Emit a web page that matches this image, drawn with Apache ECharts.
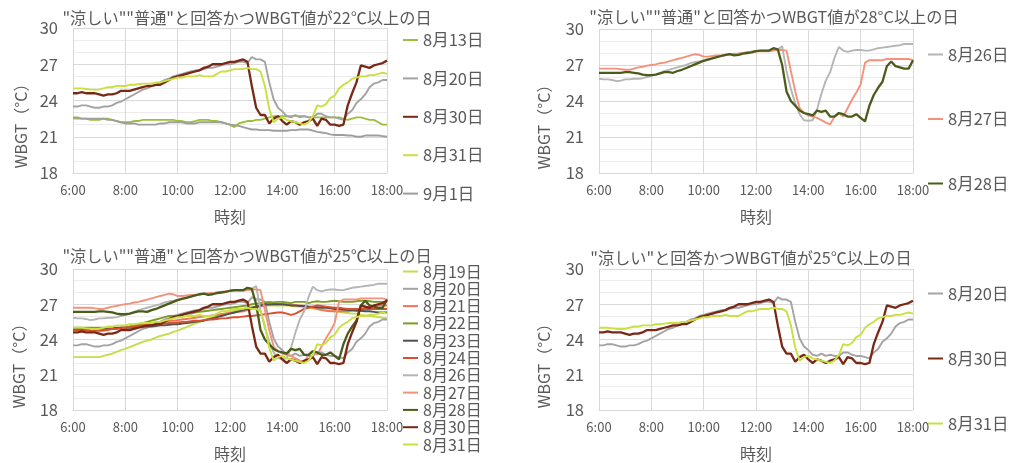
<!DOCTYPE html>
<html><head><meta charset="utf-8">
<script src="https://cdn.jsdelivr.net/npm/echarts@6/dist/echarts.min.js"></script>
<style>html,body{margin:0;padding:0;background:#fff}#c{width:1012px;height:463px}</style>
</head><body><div id="c"></div>
<script>
// time categories, 10-minute steps 6:00-18:00
const times = [];
for (let h = 6; h <= 18; h++) for (let m = 0; m < 60; m += 10) { if (h === 18 && m > 0) break; times.push(h + ':' + (m < 10 ? '0' : '') + m); }

const yTicks = [18, 21, 24, 27, 30];

const d0813 = [22.5,22.5,22.5,22.5,22.4,22.4, 22.4,22.5,22.5,22.4,22.3,22.2, 22.2,22.2,22.3,22.3,22.4,22.4, 22.4,22.4,22.4,22.4,22.4,22.4,
  22.3,22.3,22.2,22.2,22.3,22.4, 22.4,22.4,22.3,22.3,22.2,22.1, 22.0,21.8,22.1,22.2,22.3,22.3, 22.4,22.4,22.5,22.6,22.7,22.7,
  22.7,22.7,22.7,22.75,22.7,22.7, 22.6,22.6,22.6,22.6,22.6,22.6, 22.6,22.6,22.5,22.4,22.5,22.6, 22.6,22.5,22.4,22.4,22.2,22.0, 22.0];
const d0819 = [22.5,22.5,22.5,22.5,22.5,22.5, 22.5,22.6,22.7,22.8,22.95,23.1, 23.2,23.35,23.5,23.65,23.8,23.9, 24.0,24.15,24.3,24.4,24.5,24.65,
  24.75,24.9,25.05,25.2,25.35,25.5, 25.65,25.8,25.9,26.05,26.15,26.25, 26.35,26.45,26.55,26.6,26.7,26.75, 26.8,26.85,26.9,26.9,26.9,26.9,
  26.9,26.9,26.85,26.8,26.8,26.75, 26.7,26.65,26.6,26.55,26.5,26.45, 26.4,26.35,26.3,26.25,26.2,26.2, 26.1,26.05,26.0,25.95,25.9,25.85, 25.8];
const d0820 = [23.5,23.5,23.6,23.6,23.5,23.4, 23.4,23.5,23.5,23.6,23.8,23.9, 24.1,24.3,24.5,24.7,24.9,25.0, 25.2,25.3,25.5,25.7,25.8,26.0,
  26.1,26.2,26.3,26.4,26.5,26.5, 26.6,26.7,26.7,26.8,26.9,27.0, 27.0,27.1,27.2,27.2,27.1,27.6, 27.4,27.4,27.2,25.5,24.1,23.4,
  23.1,22.7,22.6,22.8,22.6,22.7, 22.6,22.6,22.9,22.9,22.7,22.6, 22.6,22.5,22.4,22.9,23.2,23.8, 24.1,24.5,25.1,25.4,25.5,25.7, 25.7];
const d0821 = [24.8,24.8,24.85,24.85,24.8,24.8, 24.7,24.75,24.8,24.9,24.95,25.0, 25.05,25.1,25.2,25.25,25.3,25.35, 25.4,25.45,25.5,25.55,25.6,25.6,
  25.65,25.7,25.75,25.8,25.85,25.9, 25.95,26.0,26.05,26.1,26.15,26.2, 26.25,26.3,26.35,26.4,26.5,26.6, 26.7,26.8,26.9,26.95,27.0,27.0,
  27.0,27.0,26.95,26.9,26.9,26.85, 26.8,26.7,26.6,26.5,26.45,26.4, 26.4,26.4,26.4,26.4,26.45,26.5, 26.6,26.7,26.8,26.85,26.9,26.9, 26.9];
const d0822 = [25.0,25.0,25.0,25.0,25.0,25.0, 25.0,25.0,24.95,24.9,24.9,25.0, 25.0,25.1,25.2,25.3,25.4,25.5, 25.6,25.7,25.8,25.9,26.0,26.0,
  26.0,26.1,26.2,26.2,26.3,26.35, 26.4,26.45,26.5,26.55,26.6,26.65, 26.7,26.75,26.8,26.85,26.9,27.0, 27.05,27.1,27.15,27.2,27.15,27.2,
  27.2,27.15,27.1,27.2,27.2,27.2, 27.1,27.2,27.25,27.2,27.2,27.25, 27.3,27.25,27.2,27.2,27.2,27.25, 27.3,27.3,27.25,27.2,27.2,27.2, 27.2];
const d0823 = [24.9,24.9,24.9,24.9,24.9,24.9, 24.9,24.9,24.9,24.95,25.0,25.0, 25.0,25.0,25.0,25.05,25.1,25.1, 25.1,25.15,25.2,25.2,25.25,25.3,
  25.3,25.35,25.4,25.45,25.5,25.55, 25.6,25.7,25.8,25.9,26.0,26.1, 26.2,26.3,26.4,26.5,26.6,26.7, 26.8,26.9,27.0,27.0,27.0,27.0,
  27.0,26.95,26.9,26.9,26.85,26.85, 26.8,26.8,26.75,26.7,26.7,26.65, 26.6,26.6,26.55,26.5,26.5,26.45, 26.45,26.4,26.4,26.35,26.3,26.3, 26.3];
const d0824 = [24.8,24.8,24.8,24.8,24.75,24.75, 24.8,24.8,24.85,24.9,24.9,24.95, 25.0,25.05,25.1,25.15,25.2,25.2, 25.25,25.3,25.3,25.35,25.4,25.4,
  25.45,25.5,25.5,25.55,25.6,25.6, 25.65,25.7,25.7,25.75,25.8,25.8, 25.85,25.9,25.9,25.95,26.0,26.0, 26.05,26.1,26.15,26.2,26.25,26.3,
  26.3,26.2,26.1,26.2,26.4,26.6, 26.7,26.8,26.9,26.85,26.8,26.75, 26.7,26.7,26.65,26.6,26.6,26.6, 26.6,26.6,26.6,26.6,26.6,26.6, 26.6];
const d0826 = [25.85,25.8,25.8,25.75,25.65,25.7, 25.8,25.8,25.85,25.85,25.9,26.0, 26.1,26.2,26.35,26.5,26.6,26.7, 26.8,26.9,27.0,27.15,27.25,27.3,
  27.4,27.5,27.55,27.65,27.75,27.8, 27.9,27.9,27.95,28.0,28.05,28.1, 28.15,28.2,28.2,28.2,28.25,28.3, 28.55,26.5,25.0,23.8,22.9,22.4,
  22.35,22.4,23.3,24.6,25.7,26.4, 27.6,28.5,28.2,28.1,28.2,28.25, 28.25,28.2,28.2,28.3,28.4,28.45, 28.5,28.55,28.6,28.65,28.75,28.75, 28.75];
const d0827 = [26.7,26.7,26.7,26.7,26.7,26.65, 26.6,26.6,26.7,26.8,26.85,26.95, 27.0,27.05,27.15,27.2,27.3,27.4, 27.5,27.6,27.7,27.8,27.9,27.85,
  27.7,27.7,27.75,27.8,27.8,27.85, 27.9,27.95,27.95,28.0,28.05,28.1, 28.15,28.15,28.15,28.15,28.2,28.25, 28.25,28.2,26.5,24.8,23.4,23.0,
  22.8,22.7,22.6,22.4,22.2,22.05, 22.7,23.0,22.7,23.4,24.1,24.7, 25.4,27.2,27.4,27.4,27.4,27.4, 27.5,27.5,27.5,27.5,27.5,27.5, 27.4];
const d0828 = [26.35,26.35,26.35,26.35,26.35,26.35, 26.4,26.4,26.35,26.3,26.2,26.15, 26.15,26.2,26.3,26.4,26.4,26.35, 26.5,26.6,26.75,26.9,27.05,27.2,
  27.35,27.45,27.55,27.65,27.75,27.85, 27.9,27.8,27.85,27.95,28.0,28.05, 28.15,28.2,28.2,28.2,28.4,28.3, 27.0,24.8,24.0,23.6,23.2,23.0,
  22.9,22.8,23.2,23.1,23.2,22.7, 22.7,23.0,22.9,22.7,22.7,22.9, 22.6,22.3,23.6,24.5,25.1,25.6, 26.9,27.3,26.9,26.8,26.7,26.7, 27.4];
const d0830 = [24.6,24.6,24.7,24.6,24.6,24.6, 24.5,24.4,24.5,24.5,24.6,24.8, 24.8,24.8,24.9,25.0,25.1,25.2, 25.2,25.3,25.3,25.5,25.7,25.9,
  26.0,26.1,26.2,26.3,26.4,26.5, 26.7,26.8,27.0,27.0,27.0,27.1, 27.2,27.2,27.3,27.4,27.2,25.2, 23.4,22.8,22.8,22.1,22.5,22.7,
  22.3,22.0,22.3,22.2,22.0,22.2, 22.3,22.5,21.9,22.5,22.4,22.0, 22.0,21.9,22.0,23.6,24.6,25.5, 26.9,26.8,26.7,26.9,27.0,27.1, 27.3];
const d0831 = [25.0,25.0,25.0,24.95,24.9,24.9, 24.9,25.0,25.1,25.1,25.2,25.2, 25.2,25.3,25.3,25.35,25.4,25.4, 25.4,25.5,25.5,25.6,25.7,25.8,
  25.9,25.9,26.0,26.0,26.0,26.1, 26.0,26.0,26.0,26.2,26.4,26.4, 26.5,26.6,26.6,26.6,26.7,26.6, 26.6,26.4,25.2,23.3,22.2,22.5,
  22.6,22.4,22.3,22.2,22.1,22.0, 22.2,22.7,23.6,23.5,23.7,24.2, 24.4,25.0,25.3,25.5,25.8,25.9, 26.0,26.0,26.1,26.1,26.2,26.3, 26.2];
const d0901 = [22.6,22.6,22.5,22.5,22.5,22.5, 22.5,22.5,22.4,22.4,22.3,22.2, 22.1,22.1,22.1,22.0,22.0,22.0, 22.0,22.0,22.1,22.1,22.2,22.2,
  22.2,22.2,22.1,22.1,22.1,22.2, 22.2,22.2,22.2,22.2,22.2,22.1, 22.0,21.95,21.9,21.8,21.7,21.6, 21.6,21.55,21.55,21.55,21.5,21.5,
  21.5,21.5,21.55,21.55,21.6,21.6, 21.6,21.5,21.4,21.35,21.3,21.2, 21.15,21.15,21.15,21.1,21.1,21.0, 21.0,21.1,21.1,21.1,21.1,21.05, 21.0];

const dayNames = ['8月13日','8月19日','8月20日','8月21日','8月22日','8月23日','8月24日','8月26日','8月27日','8月28日','8月30日','8月31日','9月1日'];
const dayData = [d0813,d0819,d0820,d0821,d0822,d0823,d0824,d0826,d0827,d0828,d0830,d0831,d0901];
const dayColors = ['#9CC03A','#C6DC48','#A3A3A3','#F2735A','#7E9C22','#505050','#D8512E','#B5B5B5','#F4927C','#4B5C1A','#7A2816','#C9E040','#9E9E9E'];

const panelTitles = ['"涼しい""普通"と回答かつWBGT値が22℃以上の日','"涼しい""普通"と回答かつWBGT値が28°C以上の日','"涼しい""普通"と回答かつWBGT値が25℃以上の日','"涼しい"と回答かつWBGT値が25℃以上の日'];
const panelDays = [
  ['8月13日','8月20日','8月30日','8月31日','9月1日'],
  ['8月26日','8月27日','8月28日'],
  ['8月19日','8月20日','8月21日','8月22日','8月23日','8月24日','8月26日','8月27日','8月28日','8月30日','8月31日'],
  ['8月20日','8月30日','8月31日']
];

const FONT = '"Noto Sans CJK JP", "Noto Sans", sans-serif';
const TXT = '#595959';
const grids = [
  {left:73, top:28, width:314, height:145},
  {left:599, top:29, width:314, height:144},
  {left:73, top:269, width:314, height:144},
  {left:599, top:269, width:314, height:144}
];
const titlePos = [[242,5],[769,4],[242,243],[746,245]];
const yNamePos = [[21,122],[544,123],[19,362],[544,362]];
const legendCfg = [
  {left:403, top:30, fs:16.5, lh:20, gap:18.4, h:200},
  {left:928, top:44.5, fs:16.5, lh:20, gap:44.5, h:200},
  {left:403, top:263, fs:16, lh:17, gap:0.3, h:200},
  {left:928, top:283.5, fs:16.5, lh:20, gap:45, h:180}
];

const option = {
  backgroundColor:'#fff',
  animation:false,
  textStyle:{fontFamily:FONT},
  title: panelTitles.map((t,i)=>({text:t, left:titlePos[i][0], top:titlePos[i][1], textAlign:'center',
    textStyle:{fontFamily:FONT, fontSize:16.2, fontWeight:'normal', color:TXT}})),
  grid: grids.map(g=>Object.assign({containLabel:false}, g)),
  xAxis: grids.map((g,i)=>({gridIndex:i, type:'category', data:times, boundaryGap:false,
    name:'時刻', nameLocation:'middle', nameGap:36, nameTextStyle:{fontFamily:FONT, fontSize:16, color:TXT},
    axisLine:{show:true, lineStyle:{color:'#d9d9d9'}}, axisTick:{show:false},
    axisLabel:{interval:11, fontSize:13, color:TXT, margin:11, fontFamily:FONT},
    splitLine:{show:true, interval:11, lineStyle:{color:'#d9d9d9', width:1}}})),
  yAxis: grids.map((g,i)=>({gridIndex:i, type:'value', min:yTicks[0], max:yTicks[yTicks.length-1], interval:3,
    axisLine:{show:false}, axisTick:{show:false},
    axisLabel:{fontSize:16.5, color:TXT, margin:15, fontFamily:FONT},
    splitLine:{show:true, lineStyle:{color:'#d9d9d9', width:1}},
    minorTick:{show:false, splitNumber:3},
    minorSplitLine:{show:true, lineStyle:{color:'#ececec', width:1}}})),
  legend: legendCfg.map((c,i)=>({orient:'vertical', left:c.left, top:c.top, height:c.h, itemGap:c.gap,
    data:panelDays[i], icon:'rect', itemWidth:15, itemHeight:2, selectedMode:false, padding:0,
    textStyle:{fontFamily:FONT, fontSize:c.fs, color:TXT, lineHeight:c.lh, height:c.lh, padding:0}})),
  graphic: yNamePos.map(p=>({type:'text', x:p[0], y:p[1], rotation:Math.PI/2,
    style:{text:'WBGT（°C）', fontFamily:FONT, fontSize:16, fill:TXT, align:'center', verticalAlign:'middle'}})),
  series: []
};

panelDays.forEach((days, pi) => {
  days.forEach(name => {
    const k = dayNames.indexOf(name);
    const dark = (name === '8月30日' || name === '8月28日');
    option.series.push({
      type:'line', name:name, xAxisIndex:pi, yAxisIndex:pi,
      data: dayData[k], color: dayColors[k], showSymbol:false, symbol:'none',
      lineStyle:{width: dark ? 2.3 : 1.9, color: dayColors[k]},
      emphasis:{disabled:true}
    });
  });
});

const chart = echarts.init(document.getElementById('c'), null, {renderer:'canvas'});
chart.setOption(option);
</script>
</body></html>
